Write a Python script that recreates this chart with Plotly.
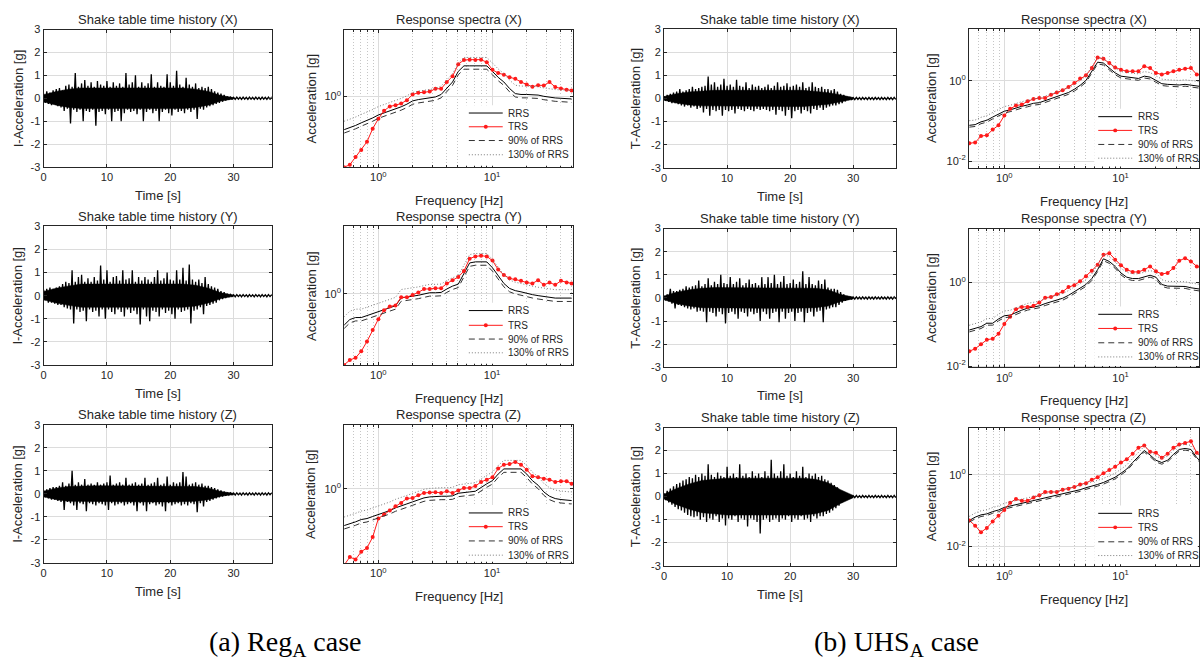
import math
import plotly.graph_objects as go

W, H = 1200, 662
DT = 0.5       # s, spacing of the envelope peak values read from the time histories
CORE_DT = 2.0  # s, spacing of the solid-core half-height values

# ---------------- time histories: upper / lower envelope peaks (g), every 0.5 s from 0 to 29 s
REG_X_UP = [0.2, 0.3, 0.25, 0.35, 0.4, 0.45, 0.35, 0.55, 0.6, 0.5,
            1.1, 0.5, 0.65, 0.8, 0.55, 0.7, 0.5, 0.75, 0.6, 0.55,
            0.75, 0.5, 0.7, 0.55, 0.65, 0.5, 1.1, 0.6, 0.7, 1.0,
            0.5, 0.7, 0.55, 0.65, 1.05, 0.5, 0.7, 0.55, 0.5, 1.05,
            0.7, 0.55, 1.2, 0.6, 0.5, 0.9, 0.6, 0.5, 0.65, 0.45,
            0.5, 0.45, 0.5, 0.4, 0.3, 0.25, 0.2, 0.15, 0.08]
REG_X_LO = [-0.2, -0.25, -0.3, -0.25, -0.35, -0.4, -0.55, -0.45, -1.1, -0.5,
            -0.6, -0.5, -1.0, -0.55, -0.6, -0.5, -1.2, -0.6, -0.55, -0.7,
            -0.5, -1.0, -0.6, -0.55, -1.0, -0.65, -0.5, -0.6, -0.55, -0.7,
            -0.5, -1.0, -0.6, -0.5, -0.65, -0.55, -1.0, -0.6, -0.5, -0.65,
            -0.75, -0.5, -0.6, -0.55, -0.65, -0.5, -0.6, -0.5, -0.9, -0.45,
            -0.5, -0.4, -0.35, -0.3, -0.25, -0.2, -0.15, -0.1, -0.06]
REG_Y_UP = [0.25, 0.3, 0.35, 0.3, 0.35, 0.4, 0.5, 0.6, 0.55, 1.1,
            0.6, 0.8, 0.9, 0.6, 0.75, 0.6, 0.8, 0.65, 1.3, 0.7,
            1.1, 0.6, 0.8, 0.85, 0.65, 1.1, 0.7, 0.75, 1.1, 0.6,
            0.8, 0.65, 0.8, 0.7, 0.6, 0.8, 1.1, 0.65, 0.75, 1.0,
            0.7, 0.65, 1.1, 0.7, 1.2, 0.65, 1.35, 0.7, 0.6, 0.7,
            0.55, 0.8, 0.5, 0.4, 0.35, 0.3, 0.2, 0.15, 0.08]
REG_Y_LO = [-0.2, -0.3, -0.3, -0.35, -0.4, -0.4, -0.5, -0.55, -0.6, -1.2,
            -0.6, -0.7, -0.65, -1.1, -0.6, -0.7, -0.65, -0.9, -0.6, -1.0,
            -0.6, -0.7, -0.8, -0.6, -0.7, -0.9, -0.6, -0.75, -0.65, -0.8,
            -1.25, -0.6, -0.9, -1.1, -0.65, -0.7, -0.9, -0.6, -0.75, -0.65,
            -0.8, -1.0, -0.6, -0.7, -0.65, -0.6, -1.2, -0.65, -0.6, -0.5,
            -0.8, -0.45, -0.4, -0.35, -0.3, -0.2, -0.15, -0.1, -0.06]
REG_Z_UP = [0.15, 0.2, 0.25, 0.3, 0.3, 0.35, 0.5, 0.35, 0.45, 1.0,
            0.4, 0.5, 0.4, 0.65, 0.4, 0.45, 0.4, 0.5, 0.4, 0.45,
            0.5, 0.8, 0.4, 0.45, 0.5, 0.4, 0.7, 0.4, 0.45, 0.5,
            0.4, 0.45, 0.7, 0.4, 0.45, 0.5, 0.7, 0.4, 0.45, 0.75,
            0.4, 0.5, 0.45, 0.5, 0.95, 0.75, 0.4, 0.45, 0.5, 0.4,
            0.45, 0.35, 0.35, 0.3, 0.25, 0.2, 0.15, 0.1, 0.06]
REG_Z_LO = [-0.15, -0.2, -0.25, -0.25, -0.3, -0.35, -0.7, -0.35, -0.4, -0.5,
            -0.7, -0.4, -0.45, -0.75, -0.4, -0.45, -0.5, -0.4, -0.45, -0.5,
            -0.7, -0.4, -0.5, -0.45, -0.4, -0.5, -0.45, -0.4, -0.5, -0.75,
            -0.4, -0.5, -0.75, -0.45, -0.4, -0.5, -0.45, -0.55, -0.75, -0.4,
            -0.5, -0.45, -0.4, -0.5, -0.45, -0.5, -0.4, -0.45, -0.8, -0.4,
            -0.55, -0.35, -0.3, -0.25, -0.2, -0.15, -0.12, -0.08, -0.05]
UHS_X_UP = [0.1, 0.15, 0.2, 0.25, 0.3, 0.4, 0.3, 0.35, 0.4, 0.5,
            0.4, 0.45, 0.5, 0.55, 0.95, 0.6, 0.7, 0.5, 0.6, 0.85,
            0.55, 0.6, 0.5, 0.8, 0.55, 0.5, 0.7, 0.45, 0.6, 0.5,
            0.55, 0.45, 0.5, 0.6, 0.45, 0.55, 0.7, 0.5, 0.55, 0.65,
            0.5, 0.55, 0.6, 0.5, 0.7, 0.45, 0.5, 0.7, 0.5, 0.45,
            0.5, 0.4, 0.4, 0.35, 0.4, 0.3, 0.2, 0.15, 0.08]
UHS_X_LO = [-0.1, -0.15, -0.2, -0.2, -0.25, -0.3, -0.35, -0.3, -0.4, -0.35,
            -0.45, -0.4, -0.6, -0.45, -0.75, -0.5, -0.55, -0.5, -0.75, -0.5,
            -0.55, -0.5, -0.65, -0.45, -0.5, -0.55, -0.45, -0.5, -0.55, -0.45,
            -0.5, -0.45, -0.5, -0.55, -0.5, -0.7, -0.5, -0.55, -0.75, -0.5,
            -0.85, -0.55, -0.5, -0.65, -0.5, -0.55, -0.65, -0.45, -0.5, -0.4,
            -0.5, -0.4, -0.35, -0.3, -0.3, -0.25, -0.2, -0.12, -0.06]
UHS_Y_UP = [0.1, 0.15, 0.4, 0.3, 0.3, 0.35, 0.4, 0.5, 0.45, 0.5,
            0.55, 0.75, 0.5, 0.6, 0.85, 0.55, 0.7, 0.6, 1.0, 0.65,
            0.6, 0.9, 0.6, 0.7, 0.85, 0.55, 0.65, 0.8, 0.6, 0.65,
            0.55, 0.9, 0.6, 0.9, 0.65, 1.0, 0.6, 0.7, 0.95, 0.6,
            0.65, 0.8, 0.6, 0.7, 1.15, 0.6, 0.9, 0.6, 0.55, 0.75,
            0.6, 0.8, 0.45, 0.4, 0.4, 0.35, 0.25, 0.15, 0.08]
UHS_Y_LO = [-0.1, -0.15, -0.25, -0.45, -0.3, -0.35, -0.4, -0.45, -0.5, -0.45,
            -0.6, -0.55, -0.6, -1.05, -0.6, -0.65, -0.8, -0.6, -0.7, -1.1,
            -0.65, -0.6, -0.7, -0.9, -0.6, -0.65, -0.8, -0.6, -0.7, -0.65,
            -1.0, -0.6, -0.7, -0.9, -0.65, -0.6, -1.05, -0.6, -0.9, -0.65,
            -0.6, -1.0, -0.65, -0.6, -1.05, -0.65, -0.6, -0.8, -0.6, -0.55,
            -1.05, -0.5, -0.45, -0.4, -0.4, -0.3, -0.2, -0.12, -0.06]
UHS_Z_UP = [0.15, 0.25, 0.35, 0.45, 0.55, 0.6, 0.7, 0.75, 0.85, 0.8,
            0.95, 0.85, 1.0, 0.9, 1.4, 0.95, 0.85, 1.05, 0.9, 0.85,
            1.3, 0.9, 1.0, 0.85, 1.4, 0.9, 1.0, 0.85, 1.1, 0.9,
            1.0, 0.85, 1.1, 0.9, 1.6, 1.0, 0.9, 1.1, 1.4, 0.9,
            1.0, 0.85, 1.1, 0.9, 1.3, 0.85, 1.0, 0.9, 1.0, 0.85,
            0.9, 0.75, 0.7, 0.6, 0.5, 0.4, 0.25, 0.15, 0.08]
UHS_Z_LO = [-0.15, -0.25, -0.35, -0.45, -0.55, -0.6, -0.7, -0.8, -0.85, -0.9,
            -0.85, -1.0, -0.9, -1.1, -0.95, -1.0, -0.85, -1.1, -0.95, -1.25,
            -0.95, -1.0, -0.85, -1.1, -0.95, -1.0, -1.3, -0.95, -1.0, -1.1,
            -1.6, -1.0, -0.95, -1.1, -1.0, -0.95, -1.1, -0.95, -1.0, -0.85,
            -1.1, -0.95, -1.0, -0.85, -1.0, -0.95, -1.1, -0.85, -0.95, -0.85,
            -0.85, -0.75, -0.7, -0.6, -0.5, -0.4, -0.25, -0.15, -0.08]
# residual tail after the strong motion (29.5 s to the end of the record)
TAIL_REG_UP = [0.05, 0.04, 0.05, 0.04, 0.05, 0.04, 0.05, 0.04, 0.05, 0.04, 0.05, 0.04, 0.05, 0.04]
TAIL_REG_LO = [-0.04, -0.05, -0.04, -0.05, -0.04, -0.05, -0.04, -0.05, -0.04, -0.05, -0.04, -0.05, -0.04, -0.05]
TAIL_UHS_UP = [0.05, 0.04, 0.05, 0.04, 0.05, 0.04, 0.05, 0.04, 0.05, 0.04, 0.05, 0.04, 0.05, 0.04, 0.05]
TAIL_UHS_LO = [-0.04, -0.05, -0.04, -0.05, -0.04, -0.05, -0.04, -0.05, -0.04, -0.05, -0.04, -0.05, -0.04, -0.05, -0.04]
# half-height (g) of the solid black core of each record, every 2 s from 0 to 30 s
REG_X_CORE = [0.15, 0.3, 0.4, 0.45, 0.45, 0.45, 0.45, 0.45, 0.45, 0.45, 0.45, 0.45, 0.4, 0.3, 0.12, 0.03]
REG_Y_CORE = [0.18, 0.32, 0.42, 0.5, 0.5, 0.5, 0.5, 0.5, 0.5, 0.5, 0.5, 0.5, 0.45, 0.32, 0.12, 0.03]
REG_Z_CORE = [0.12, 0.25, 0.32, 0.35, 0.35, 0.35, 0.35, 0.35, 0.35, 0.35, 0.35, 0.35, 0.32, 0.25, 0.1, 0.03]
UHS_X_CORE = [0.08, 0.2, 0.28, 0.32, 0.35, 0.35, 0.35, 0.35, 0.35, 0.35, 0.35, 0.35, 0.3, 0.25, 0.15, 0.04]
UHS_Y_CORE = [0.08, 0.25, 0.35, 0.42, 0.45, 0.45, 0.45, 0.45, 0.45, 0.45, 0.45, 0.45, 0.42, 0.35, 0.15, 0.04]
UHS_Z_CORE = [0.1, 0.35, 0.55, 0.7, 0.75, 0.8, 0.8, 0.8, 0.8, 0.8, 0.8, 0.8, 0.75, 0.6, 0.3, 0.05]

# ---------------- response spectra (g) at 1/6-octave frequencies (Hz)
FREQ = [0.5, 0.561, 0.63, 0.707, 0.794, 0.891, 1.0, 1.122, 1.26, 1.414,
        1.587, 1.782, 2.0, 2.245, 2.52, 2.828, 3.175, 3.564, 4.0, 4.49,
        5.04, 5.657, 6.35, 7.127, 8.0, 8.98, 10.08, 11.31, 12.7, 14.25,
        16.0, 17.96, 20.16, 22.63, 25.4, 28.51, 32.0, 35.92, 40.32, 45.25, 50.0]

REG_X_RRS = [0.356, 0.378, 0.406, 0.441, 0.474, 0.514, 0.564, 0.60, 0.644, 0.685,
             0.728, 0.79, 0.875, 0.912, 0.94, 0.97, 0.99, 1.07, 1.32, 1.58,
             2.2, 2.62, 2.62, 2.62, 2.62, 2.62, 2.2, 1.83, 1.58, 1.29,
             1.10, 1.07, 1.07, 1.07, 1.05, 1.01, 0.98, 0.96, 0.95, 0.94, 0.93]
REG_X_TRS = [0.11, 0.119, 0.151, 0.189, 0.244, 0.367, 0.499, 0.644, 0.736, 0.766,
             0.807, 0.894, 1.07, 1.13, 1.15, 1.17, 1.28, 1.28, 1.58, 1.89,
             2.75, 3.15, 3.18, 3.15, 3.18, 2.93, 2.31, 2.09, 1.99, 1.83,
             1.75, 1.58, 1.46, 1.36, 1.43, 1.42, 1.58, 1.35, 1.29, 1.24, 1.21]
REG_Y_RRS = [0.378, 0.45, 0.479, 0.479, 0.509, 0.541, 0.57, 0.60, 0.65, 0.692,
             0.885, 0.903, 0.931, 0.96, 1.0, 1.04, 1.04, 1.05, 1.17, 1.28,
             1.36, 1.94, 2.64, 2.73, 2.73, 2.73, 2.27, 1.75, 1.39, 1.19,
             1.11, 1.07, 1.02, 0.98, 0.95, 0.92, 0.90, 0.88, 0.88, 0.88, 0.88]
REG_Y_TRS = [0.109, 0.127, 0.136, 0.167, 0.227, 0.324, 0.455, 0.60, 0.678, 0.699,
             0.903, 0.903, 0.97, 1.05, 1.17, 1.17, 1.2, 1.2, 1.39, 1.54,
             1.7, 2.05, 3.02, 3.24, 3.31, 3.24, 2.84, 2.15, 1.81, 1.63,
             1.58, 1.51, 1.43, 1.39, 1.54, 1.33, 1.43, 1.33, 1.51, 1.43, 1.39]
REG_Z_RRS = [0.324, 0.341, 0.363, 0.39, 0.402, 0.428, 0.455, 0.479, 0.514, 0.558,
             0.60, 0.631, 0.671, 0.714, 0.759, 0.782, 0.798, 0.798, 0.798, 0.807,
             0.875, 0.903, 0.912, 0.931, 1.05, 1.17, 1.29, 1.58, 1.85, 1.85,
             1.85, 1.85, 1.58, 1.29, 1.12, 0.912, 0.798, 0.743, 0.721, 0.706, 0.699]
REG_Z_TRS = [0.096, 0.123, 0.114, 0.145, 0.163, 0.227, 0.402, 0.455, 0.514, 0.587,
             0.65, 0.743, 0.759, 0.824, 0.885, 0.894, 0.903, 0.885, 0.931, 0.885,
             0.95, 1.03, 1.03, 1.09, 1.24, 1.33, 1.43, 1.87, 2.11, 2.15,
             2.29, 2.11, 1.81, 1.48, 1.43, 1.37, 1.33, 1.24, 1.27, 1.27, 1.17]
UHS_X_RRS = [0.078, 0.081, 0.095, 0.104, 0.125, 0.151, 0.175, 0.189, 0.211, 0.232,
             0.25, 0.275, 0.285, 0.319, 0.351, 0.40, 0.447, 0.51, 0.615, 0.769,
             1.02, 1.72, 2.9, 2.75, 2.07, 1.57, 1.3, 1.23, 1.18, 1.14,
             1.3, 1.23, 1.02, 0.845, 0.814, 0.784, 0.784, 0.814, 0.769, 0.741, 0.714]
UHS_X_TRS = [0.028, 0.029, 0.042, 0.044, 0.061, 0.078, 0.137, 0.20, 0.241, 0.255,
             0.308, 0.351, 0.371, 0.371, 0.447, 0.51, 0.581, 0.701, 0.877, 1.14,
             1.37, 2.07, 3.78, 3.51, 2.75, 2.15, 1.89, 1.72, 1.72, 1.72,
             2.28, 2.07, 1.57, 1.43, 1.57, 1.72, 1.89, 2.0, 2.07, 1.43, 1.37]
UHS_Y_RRS = [0.073, 0.08, 0.088, 0.106, 0.106, 0.134, 0.16, 0.166, 0.192, 0.218,
             0.243, 0.261, 0.276, 0.313, 0.349, 0.376, 0.419, 0.493, 0.602, 0.722,
             0.897, 1.24, 2.03, 3.69, 3.19, 2.43, 1.69, 1.34, 1.24, 1.24,
             1.34, 1.49, 1.34, 0.897, 0.819, 0.819, 0.804, 0.804, 0.748, 0.722, 0.684]
UHS_Y_TRS = [0.0226, 0.0261, 0.0331, 0.0427, 0.0451, 0.0591, 0.102, 0.152, 0.23, 0.261,
             0.261, 0.276, 0.331, 0.434, 0.451, 0.521, 0.602, 0.776, 0.865, 1.07,
             1.41, 1.92, 2.66, 4.59, 5.02, 3.49, 2.57, 2.03, 1.79, 1.79,
             2.03, 2.43, 1.85, 1.6, 1.69, 2.22, 3.31, 3.83, 3.19, 2.43, 2.22]
UHS_Z_RRS = [0.0533, 0.0658, 0.0762, 0.0811, 0.0939, 0.104, 0.123, 0.134, 0.149, 0.165,
             0.176, 0.195, 0.204, 0.231, 0.251, 0.267, 0.297, 0.323, 0.344, 0.382,
             0.433, 0.471, 0.534, 0.605, 0.716, 0.846, 1.09, 1.43, 2.17, 3.3,
             4.71, 3.51, 2.51, 2.17, 2.51, 3.66, 5.01, 5.34, 5.01, 2.97, 2.17]
UHS_Z_TRS = [0.0533, 0.0382, 0.0251, 0.033, 0.0501, 0.0716, 0.104, 0.165, 0.212, 0.187,
             0.187, 0.231, 0.267, 0.33, 0.33, 0.33, 0.382, 0.407, 0.451, 0.534,
             0.58, 0.716, 0.846, 1.09, 1.34, 1.65, 2.17, 2.67, 3.82, 5.56,
             6.45, 4.33, 4.06, 2.97, 3.82, 5.56, 6.86, 7.62, 8.46, 4.06, 3.1]

DIRS = ["X", "Y", "Z"]
LEGEND_LABELS = ["RRS", "TRS", "90% of RRS", "130% of RRS"]
CAPTIONS = ["(a) Reg<sub>A</sub> case", "(b) UHS<sub>A</sub> case"]

TIME_DATA = {
    ("L", 0): (REG_X_UP + TAIL_REG_UP, REG_X_LO + TAIL_REG_LO, REG_X_CORE),
    ("L", 1): (REG_Y_UP + TAIL_REG_UP, REG_Y_LO + TAIL_REG_LO, REG_Y_CORE),
    ("L", 2): (REG_Z_UP + TAIL_REG_UP, REG_Z_LO + TAIL_REG_LO, REG_Z_CORE),
    ("R", 0): (UHS_X_UP + TAIL_UHS_UP, UHS_X_LO + TAIL_UHS_LO, UHS_X_CORE),
    ("R", 1): (UHS_Y_UP + TAIL_UHS_UP, UHS_Y_LO + TAIL_UHS_LO, UHS_Y_CORE),
    ("R", 2): (UHS_Z_UP + TAIL_UHS_UP, UHS_Z_LO + TAIL_UHS_LO, UHS_Z_CORE),
}
SPEC_DATA = {
    ("L", 0): (REG_X_RRS, REG_X_TRS), ("L", 1): (REG_Y_RRS, REG_Y_TRS), ("L", 2): (REG_Z_RRS, REG_Z_TRS),
    ("R", 0): (UHS_X_RRS, UHS_X_TRS), ("R", 1): (UHS_Y_RRS, UHS_Y_TRS), ("R", 2): (UHS_Z_RRS, UHS_Z_TRS),
}

# ---------------- layout geometry (pixels)
FONT = "Liberation Sans, Arial, Helvetica, sans-serif"
SERIF = "Liberation Serif, Times New Roman, serif"
INK = "#262626"
GRID = "#dcdcdc"
MINOR_GRID = "#c6c6c6"

XCOL = {("L", "time"): (40.7, 269.3), ("L", "spec"): (342.0, 571.7),
        ("R", "time"): (662.7, 895.3), ("R", "spec"): (968.3, 1199.0)}
ROWS = {"L": [(24.0, 164.0), (224.3, 365.7), (426.5, 567.3)],
        "R": [(23.3, 165.0), (226.7, 368.0), (429.3, 570.0)]}
TIME_XMAX = {"L": 36.0, "R": 36.8}
SPEC_XR = {"L": [math.log10(0.5), 1.714], "R": [-0.305, 1.675]}
SPEC_YR = {("L", 0): [-0.956, 0.911], ("L", 1): [-0.965, 0.92], ("L", 2): [-0.99, 0.857],
           ("R", 0): [-2.17, 1.29], ("R", 1): [-2.03, 1.29], ("R", 2): [-2.53, 1.31]}
YTITLE_X = {("L", "time"): 15.0, ("L", "spec"): 309.0, ("R", "time"): 634.3, ("R", "spec"): 931.0}
YTITLE_TXT = {("L", "time"): "I-Acceleration [g]", ("R", "time"): "T-Acceleration [g]",
              ("L", "spec"): "Acceleration [g]", ("R", "spec"): "Acceleration [g]"}
LEG = {"L": dict(x0=467, x1=501, tx=504, box=463), "R": dict(x0=1098, x1=1132, tx=1136, box=1094)}
LEG_ROWS = {("L", 0): [55, 41, 27, 12.5], ("L", 1): [55.5, 40.5, 26.5, 12.5], ("L", 2): [51, 37, 22.5, 8],
            ("R", 0): [52.3, 38.3, 24, 10], ("R", 1): [54, 39.6, 25, 10.6], ("R", 2): [53.3, 39, 24.3, 10.3]}
MINOR_F = [0.5, 0.6, 0.7, 0.8, 0.9, 2, 3, 4, 5, 6, 7, 8, 9, 20, 30, 40, 50]


def zigzag(up, lo):
    xs, ys = [], []
    for i, (u, l) in enumerate(zip(up, lo)):
        xs += [i * DT, i * DT + DT / 2]
        ys += [u, l]
    return xs, ys


def core_band(core):
    ts = [i * CORE_DT for i in range(len(core))]
    return ts + ts[::-1], core + [-c for c in core[::-1]]


def dom_x(x0, x1):
    return [x0 / W, min(x1 / W, 1.0)]


def dom_y(y0, y1):
    return [1 - y1 / H, 1 - y0 / H]


common = dict(showline=True, linecolor=INK, linewidth=1, mirror="ticks", ticks="inside",
              ticklen=3, tickcolor=INK, tickwidth=1, showgrid=True, gridcolor=GRID,
              gridwidth=1, zeroline=False, tickfont=dict(family=FONT, size=11, color=INK))

fig = go.Figure()
layout = {}
annotations = []
shapes = []

n = 0
for row in range(3):
    for case, kind in [("L", "time"), ("L", "spec"), ("R", "time"), ("R", "spec")]:
        n += 1
        xa = "x" if n == 1 else f"x{n}"
        ya = "y" if n == 1 else f"y{n}"
        xk = "xaxis" if n == 1 else f"xaxis{n}"
        yk = "yaxis" if n == 1 else f"yaxis{n}"
        px0, px1 = XCOL[(case, kind)]
        py0, py1 = ROWS[case][row]
        ph = py1 - py0
        pw = min(px1, W) - px0
        if kind == "time":
            up, lo, core = TIME_DATA[(case, row)]
            bx, by = core_band(core)
            fig.add_trace(go.Scatter(x=bx, y=by, mode="lines", fill="toself", fillcolor="black",
                                     line=dict(color="black", width=0.5), xaxis=xa, yaxis=ya,
                                     hoverinfo="skip"))
            xs, ys = zigzag(up, lo)
            fig.add_trace(go.Scatter(x=xs, y=ys, mode="lines", xaxis=xa, yaxis=ya,
                                     line=dict(color="black", width=1.3), hoverinfo="skip"))
            layout[xk] = dict(domain=dom_x(px0, px1), anchor=ya, range=[0, TIME_XMAX[case]],
                              tickmode="array", tickvals=[0, 10, 20, 30],
                              ticktext=["0", "10", "20", "30"], **common)
            layout[yk] = dict(domain=dom_y(py0, py1), anchor=xa, range=[-3, 3],
                              tickmode="array", tickvals=[-3, -2, -1, 0, 1, 2, 3],
                              ticktext=["-3", "-2", "-1", "0", "1", "2", "3"], **common)
            title = f"Shake table time history ({DIRS[row]})"
            xtitle, xt_off = "Time [s]", 29
        else:
            rrs, trs = SPEC_DATA[(case, row)]
            lg = dict(xaxis=xa, yaxis=ya, hoverinfo="skip")
            fig.add_trace(go.Scatter(x=FREQ, y=rrs, mode="lines",
                                     line=dict(color="black", width=1), **lg))
            fig.add_trace(go.Scatter(x=FREQ, y=trs, mode="lines+markers",
                                     line=dict(color="#ff1a1a", width=1),
                                     marker=dict(color="#ff1a1a", size=4), **lg))
            fig.add_trace(go.Scatter(x=FREQ, y=[0.9 * v for v in rrs], mode="lines",
                                     line=dict(color="#333333", width=1, dash="6px,4px"), **lg))
            fig.add_trace(go.Scatter(x=FREQ, y=[1.3 * v for v in rrs], mode="lines",
                                     line=dict(color="#7a7a7a", width=1, dash="1px,2px"), **lg))
            layout[xk] = dict(domain=dom_x(px0, px1), anchor=ya, type="log", range=SPEC_XR[case],
                              tickmode="array", tickvals=[1, 10],
                              ticktext=["10<sup>0</sup>", "10<sup>1</sup>"],
                              minor=dict(tickmode="array", tickvals=MINOR_F, showgrid=True,
                                         griddash="1px,2px", gridcolor=MINOR_GRID, gridwidth=1,
                                         ticks="inside", ticklen=2, tickcolor=INK),
                              **common)
            if case == "L":
                yt, ytt = [1], ["10<sup>0</sup>"]
            else:
                yt, ytt = [0.01, 1], ["10<sup>-2</sup>", "10<sup>0</sup>"]
            layout[yk] = dict(domain=dom_y(py0, py1), anchor=xa, type="log",
                              range=SPEC_YR[(case, row)], tickmode="array",
                              tickvals=yt, ticktext=ytt, **common)
            title = f"Response spectra ({DIRS[row]})"
            xtitle, xt_off = "Frequency [Hz]", 34

            # legend (drawn inside the axes, lower right)
            L = LEG[case]
            dref_x, dref_y = f"{xa} domain", f"{ya} domain"
            fx = lambda p: (p - px0) / pw
            shapes.append(dict(type="rect", xref=dref_x, yref=dref_y, x0=fx(L["box"]), x1=0.995,
                               y0=0.01, y1=(LEG_ROWS[(case, row)][0] + 8) / ph,
                               fillcolor="white", line=dict(width=0), layer="above"))
            styles = [dict(color="black", width=1),
                      dict(color="#ff1a1a", width=1),
                      dict(color="#333333", width=1, dash="6px,4px"),
                      dict(color="#7a7a7a", width=1, dash="1px,2px")]
            for k, (lab, sty) in enumerate(zip(LEGEND_LABELS, styles)):
                yy = LEG_ROWS[(case, row)][k] / ph
                shapes.append(dict(type="line", xref=dref_x, yref=dref_y, x0=fx(L["x0"]),
                                   x1=fx(L["x1"]), y0=yy, y1=yy, line=sty, layer="above"))
                if k == 1:
                    cx = fx((L["x0"] + L["x1"]) / 2)
                    shapes.append(dict(type="circle", xref=dref_x, yref=dref_y,
                                       x0=cx - 2 / pw, x1=cx + 2 / pw, y0=yy - 2 / ph, y1=yy + 2 / ph,
                                       fillcolor="#ff1a1a", line=dict(width=0), layer="above"))
                annotations.append(dict(xref=dref_x, yref=dref_y, x=fx(L["tx"]), y=yy, text=lab,
                                        showarrow=False, xanchor="left", yanchor="middle",
                                        font=dict(family=FONT, size=10, color=INK)))

        cx_px = (px0 + min(px1, W)) / 2 if kind == "time" else (px0 + px1) / 2
        # panel title
        annotations.append(dict(xref="paper", yref="paper", x=cx_px / W, y=1 - (py0 - 10) / H,
                                text=title, showarrow=False, xanchor="center", yanchor="middle",
                                font=dict(family=FONT, size=13, color=INK)))
        # x-axis title
        annotations.append(dict(xref="paper", yref="paper", x=cx_px / W, y=1 - (py1 + xt_off) / H,
                                text=xtitle, showarrow=False, xanchor="center", yanchor="middle",
                                font=dict(family=FONT, size=13, color=INK)))
        # y-axis title
        annotations.append(dict(xref="paper", yref="paper", x=YTITLE_X[(case, kind)] / W,
                                y=1 - (py0 + py1) / 2 / H, text=YTITLE_TXT[(case, kind)],
                                showarrow=False, textangle=-90, xanchor="center", yanchor="middle",
                                font=dict(family=FONT, size=13, color=INK)))

# captions
for cap, cx in zip(CAPTIONS, [283, 896]):
    annotations.append(dict(xref="paper", yref="paper", x=cx / W, y=1 - 649 / H, text=cap,
                            showarrow=False, xanchor="center", yanchor="middle",
                            font=dict(family=SERIF, size=28, color="black")))

fig.update_layout(width=W, height=H, margin=dict(l=0, r=0, t=0, b=0),
                  paper_bgcolor="white", plot_bgcolor="white", showlegend=False,
                  annotations=annotations, shapes=shapes, **layout)

PIN_TOP_LEFT = ("document.body.style.margin='0px';"
                "var d=document.getElementById('{plot_id}');"
                "d.style.position='absolute';d.style.left='0px';d.style.top='0px';")
fig.write_html("out.html", post_script=PIN_TOP_LEFT, config={"displayModeBar": False})
